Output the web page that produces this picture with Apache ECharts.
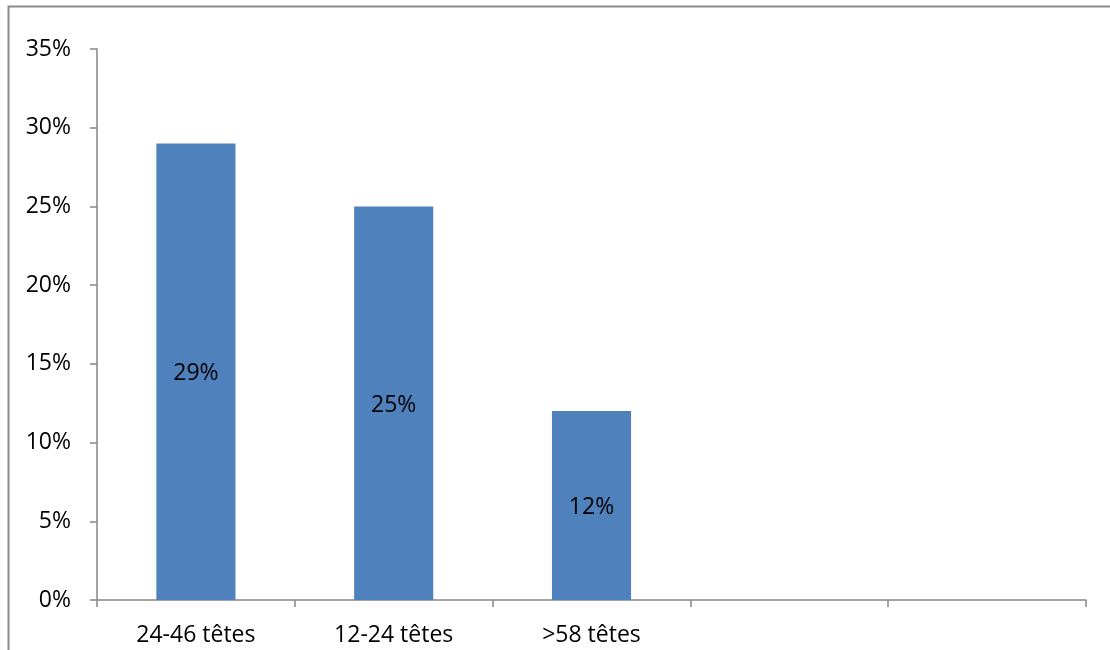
<!DOCTYPE html>
<html><head><meta charset="utf-8">
<script src="https://cdn.jsdelivr.net/npm/echarts@6/dist/echarts.min.js"></script>
<style>html,body{margin:0;padding:0;background:#fff}#c{width:1110px;height:650px}</style>
</head><body><div id="c"></div>
<script>
const categories = ['24-46 têtes', '12-24 têtes', '>58 têtes', '', ''];
const values = [29, 25, 12, null, null];
const yTicks = { min: 0, max: 35, interval: 5 };

const font = 'Open Sans';
const fs = 23;
const chart = echarts.init(document.getElementById('c'));
chart.setOption({
  animation: false,
  graphic: [{
    type: 'rect', shape: { x: 8.5, y: 6.5, width: 1300, height: 800 },
    style: { fill: 'none', stroke: '#8a8a8a', lineWidth: 2 }
  }],
  grid: { left: 97, right: 24, top: 49, bottom: 50 },
  xAxis: {
    type: 'category', data: categories,
    axisLine: { lineStyle: { color: '#868686', width: 1.5 } },
    axisTick: { show: true, length: 7, alignWithLabel: false, lineStyle: { color: '#868686', width: 1.5 } },
    axisLabel: { color: '#000', fontFamily: font, fontSize: fs, margin: 24, interval: 0 }
  },
  yAxis: {
    type: 'value', min: yTicks.min, max: yTicks.max, interval: yTicks.interval,
    axisLine: { show: true, lineStyle: { color: '#868686', width: 1.5 } },
    axisTick: { show: true, length: 7, lineStyle: { color: '#868686', width: 1.5 } },
    splitLine: { show: false },
    axisLabel: { color: '#000', fontFamily: font, fontSize: fs, margin: 26, formatter: '{value}%' }
  },
  series: [{
    type: 'bar', data: values, barCategoryGap: '60%',
    itemStyle: { color: '#4F81BD' },
    label: { show: true, position: 'inside', color: '#000', fontFamily: font, fontSize: fs,
      offset: [0, 2], formatter: p => p.value + '%' }
  }]
});
</script></body></html>
